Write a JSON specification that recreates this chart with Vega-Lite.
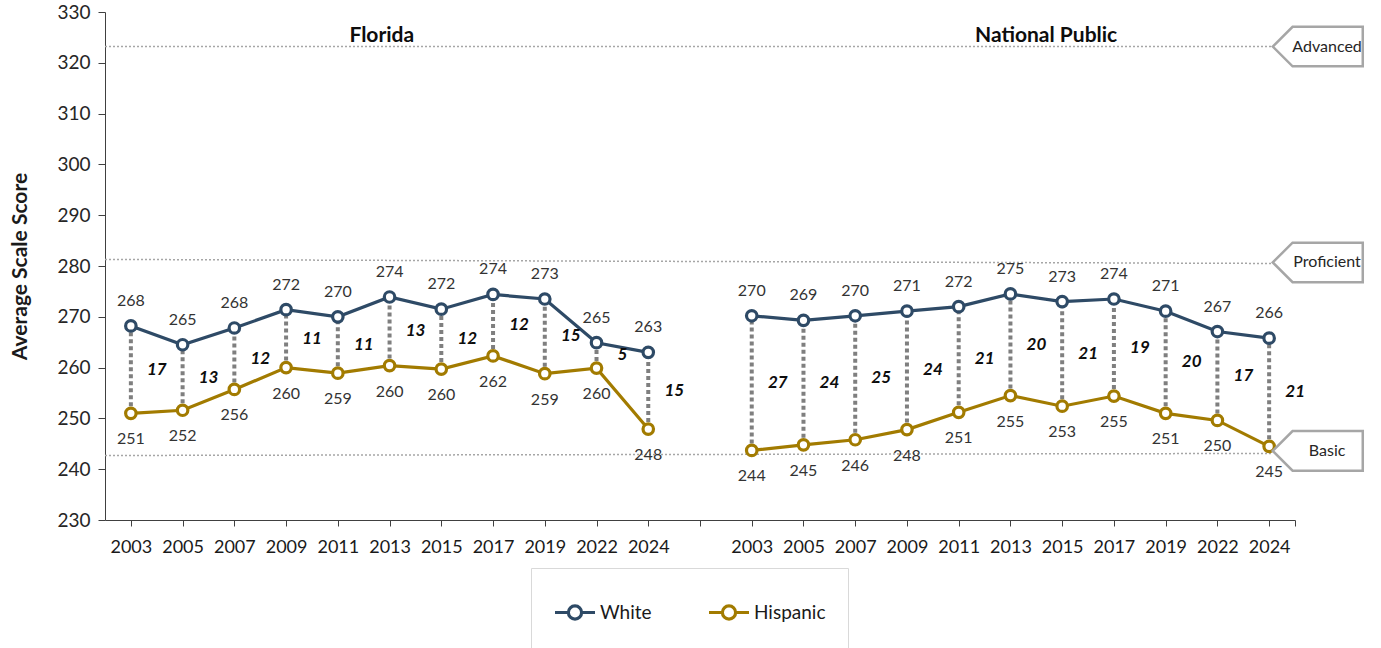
{
  "$schema": "https://vega.github.io/schema/vega-lite/v6.json",
  "width": 1190,
  "height": 508,
  "autosize": {"type": "none"},
  "padding": {"left": 105, "top": 12, "right": 86, "bottom": 128},
  "config": {
    "font": "Lato",
    "view": {"stroke": null},
    "legend": {"symbolFillColor": "white"}
  },
  "datasets": {
    "scores": [
      {"panel": "Florida", "slot": 0, "year": 2003, "group": "White", "score": 268.2, "label": 268, "gap": 17},
      {"panel": "Florida", "slot": 1, "year": 2005, "group": "White", "score": 264.5, "label": 265, "gap": 13},
      {"panel": "Florida", "slot": 2, "year": 2007, "group": "White", "score": 267.8, "label": 268, "gap": 12},
      {"panel": "Florida", "slot": 3, "year": 2009, "group": "White", "score": 271.4, "label": 272, "gap": 11},
      {"panel": "Florida", "slot": 4, "year": 2011, "group": "White", "score": 270.0, "label": 270, "gap": 11},
      {"panel": "Florida", "slot": 5, "year": 2013, "group": "White", "score": 273.9, "label": 274, "gap": 13},
      {"panel": "Florida", "slot": 6, "year": 2015, "group": "White", "score": 271.5, "label": 272, "gap": 12},
      {"panel": "Florida", "slot": 7, "year": 2017, "group": "White", "score": 274.4, "label": 274, "gap": 12},
      {"panel": "Florida", "slot": 8, "year": 2019, "group": "White", "score": 273.5, "label": 273, "gap": 15},
      {"panel": "Florida", "slot": 9, "year": 2022, "group": "White", "score": 264.9, "label": 265, "gap": 5},
      {"panel": "Florida", "slot": 10, "year": 2024, "group": "White", "score": 263.0, "label": 263, "gap": 15},
      {"panel": "Florida", "slot": 0, "year": 2003, "group": "Hispanic", "score": 251.0, "label": 251, "gap": 17},
      {"panel": "Florida", "slot": 1, "year": 2005, "group": "Hispanic", "score": 251.6, "label": 252, "gap": 13},
      {"panel": "Florida", "slot": 2, "year": 2007, "group": "Hispanic", "score": 255.7, "label": 256, "gap": 12},
      {"panel": "Florida", "slot": 3, "year": 2009, "group": "Hispanic", "score": 260.0, "label": 260, "gap": 11},
      {"panel": "Florida", "slot": 4, "year": 2011, "group": "Hispanic", "score": 258.9, "label": 259, "gap": 11},
      {"panel": "Florida", "slot": 5, "year": 2013, "group": "Hispanic", "score": 260.4, "label": 260, "gap": 13},
      {"panel": "Florida", "slot": 6, "year": 2015, "group": "Hispanic", "score": 259.7, "label": 260, "gap": 12},
      {"panel": "Florida", "slot": 7, "year": 2017, "group": "Hispanic", "score": 262.3, "label": 262, "gap": 12},
      {"panel": "Florida", "slot": 8, "year": 2019, "group": "Hispanic", "score": 258.8, "label": 259, "gap": 15},
      {"panel": "Florida", "slot": 9, "year": 2022, "group": "Hispanic", "score": 259.9, "label": 260, "gap": 5},
      {"panel": "Florida", "slot": 10, "year": 2024, "group": "Hispanic", "score": 247.9, "label": 248, "gap": 15},
      {"panel": "National Public", "slot": 12, "year": 2003, "group": "White", "score": 270.2, "label": 270, "gap": 27},
      {"panel": "National Public", "slot": 13, "year": 2005, "group": "White", "score": 269.3, "label": 269, "gap": 24},
      {"panel": "National Public", "slot": 14, "year": 2007, "group": "White", "score": 270.2, "label": 270, "gap": 25},
      {"panel": "National Public", "slot": 15, "year": 2009, "group": "White", "score": 271.1, "label": 271, "gap": 24},
      {"panel": "National Public", "slot": 16, "year": 2011, "group": "White", "score": 272.0, "label": 272, "gap": 21},
      {"panel": "National Public", "slot": 17, "year": 2013, "group": "White", "score": 274.5, "label": 275, "gap": 20},
      {"panel": "National Public", "slot": 18, "year": 2015, "group": "White", "score": 273.0, "label": 273, "gap": 21},
      {"panel": "National Public", "slot": 19, "year": 2017, "group": "White", "score": 273.5, "label": 274, "gap": 19},
      {"panel": "National Public", "slot": 20, "year": 2019, "group": "White", "score": 271.1, "label": 271, "gap": 20},
      {"panel": "National Public", "slot": 21, "year": 2022, "group": "White", "score": 267.1, "label": 267, "gap": 17},
      {"panel": "National Public", "slot": 22, "year": 2024, "group": "White", "score": 265.8, "label": 266, "gap": 21},
      {"panel": "National Public", "slot": 12, "year": 2003, "group": "Hispanic", "score": 243.7, "label": 244, "gap": 27},
      {"panel": "National Public", "slot": 13, "year": 2005, "group": "Hispanic", "score": 244.8, "label": 245, "gap": 24},
      {"panel": "National Public", "slot": 14, "year": 2007, "group": "Hispanic", "score": 245.8, "label": 246, "gap": 25},
      {"panel": "National Public", "slot": 15, "year": 2009, "group": "Hispanic", "score": 247.8, "label": 248, "gap": 24},
      {"panel": "National Public", "slot": 16, "year": 2011, "group": "Hispanic", "score": 251.2, "label": 251, "gap": 21},
      {"panel": "National Public", "slot": 17, "year": 2013, "group": "Hispanic", "score": 254.5, "label": 255, "gap": 20},
      {"panel": "National Public", "slot": 18, "year": 2015, "group": "Hispanic", "score": 252.4, "label": 253, "gap": 21},
      {"panel": "National Public", "slot": 19, "year": 2017, "group": "Hispanic", "score": 254.4, "label": 255, "gap": 19},
      {"panel": "National Public", "slot": 20, "year": 2019, "group": "Hispanic", "score": 251.0, "label": 251, "gap": 20},
      {"panel": "National Public", "slot": 21, "year": 2022, "group": "Hispanic", "score": 249.6, "label": 250, "gap": 17},
      {"panel": "National Public", "slot": 22, "year": 2024, "group": "Hispanic", "score": 244.5, "label": 245, "gap": 21}
    ],
    "levels": [
      {"level": "Advanced", "left": 323.2, "right": 323.2, "box": 323.2},
      {"level": "Proficient", "left": 281.3, "right": 280.5, "box": 280.7},
      {"level": "Basic", "left": 242.7, "right": 243.1, "box": 243.6}
    ],
    "panels": [
      {"panel": "Florida", "center": 4.85},
      {"panel": "National Public", "center": 17.69}
    ]
  },
  "layer": [
    {
      "data": {"name": "levels"},
      "mark": {"type": "rule", "stroke": "#A6A6A6", "strokeWidth": 1.5, "strokeDash": [2, 2]},
      "encoding": {
        "x": {"datum": -0.5, "type": "quantitative"},
        "x2": {"datum": 22.07},
        "y": {"field": "left", "type": "quantitative"},
        "y2": {"field": "right"}
      }
    },
    {
      "data": {"name": "scores"},
      "mark": {"type": "rule", "stroke": "#7F7F7F", "strokeWidth": 4, "strokeDash": [4, 3]},
      "encoding": {
        "x": {"field": "slot", "type": "quantitative"},
        "y": {"aggregate": "min", "field": "score", "type": "quantitative"},
        "y2": {"aggregate": "max", "field": "score"}
      }
    },
    {
      "data": {"name": "scores"},
      "mark": {"type": "line", "strokeWidth": 3.2},
      "encoding": {
        "x": {"field": "slot", "type": "quantitative",
          "scale": {"domain": [-0.5, 22.5], "nice": false, "zero": false},
          "axis": {
            "values": [0,1,2,3,4,5,6,7,8,9,10,11,12,13,14,15,16,17,18,19,20,21,22,22.5],
            "labelExpr": "(datum.value == 11 || datum.value > 22) ? '' : ['2003','2005','2007','2009','2011','2013','2015','2017','2019','2022','2024'][datum.value % 12]",
            "title": null, "grid": false, "domainColor": "#404040", "tickColor": "#404040",
            "tickSize": 6, "labelPadding": 12, "labelFontSize": 18, "labelColor": "#1a1a1a",
            "labelFont": "Lato", "labelOverlap": false, "labelFlush": false
          }
        },
        "y": {"field": "score", "type": "quantitative",
          "scale": {"domain": [230, 330], "nice": false, "zero": false},
          "axis": {
            "values": [230,240,250,260,270,280,290,300,310,320,330],
            "title": "Average Scale Score", "titleFontSize": 21, "titleFontWeight": "bold",
            "titleColor": "#1a1a1a", "titlePadding": 26, "titleFont": "Lato",
            "grid": false, "domainColor": "#404040", "tickColor": "#404040",
            "tickSize": 7, "labelPadding": 8, "labelFontSize": 19, "labelColor": "#262626"
          }
        },
        "stroke": {"field": "group", "type": "nominal",
          "scale": {"domain": ["White", "Hispanic"], "range": ["#2E4A66", "#A27B00"]},
          "legend": {
            "title": null, "orient": "none", "legendX": 426, "legendY": 556,
            "direction": "horizontal", "padding": 22, "strokeColor": "#D9D9D9",
            "symbolType": "M -1 0 L -0.33 0 M 0.33 0 L 1 0 M 0.33 0 A 0.33 0.33 0 1 1 -0.33 0 A 0.33 0.33 0 1 1 0.33 0 Z",
            "symbolSize": 1600, "symbolStrokeWidth": 3.2, "symbolFillColor": "white",
            "labelFontSize": 19, "labelColor": "#1a1a1a", "labelOffset": 3, "columnPadding": 50
          }
        },
        "detail": {"field": "panel"}
      }
    },
    {
      "data": {"name": "scores"},
      "mark": {"type": "point", "shape": "circle", "filled": false, "fill": "white", "fillOpacity": 1, "size": 110, "strokeWidth": 3.2, "opacity": 1},
      "encoding": {
        "x": {"field": "slot", "type": "quantitative"},
        "y": {"field": "score", "type": "quantitative"},
        "stroke": {"field": "group", "type": "nominal", "legend": null}
      }
    },
    {
      "data": {"name": "scores"},
      "transform": [{"filter": "datum.group == 'White'"}],
      "mark": {"type": "text", "dy": -25, "fontSize": 16, "fill": "#333333", "baseline": "middle"},
      "encoding": {
        "x": {"field": "slot", "type": "quantitative"},
        "y": {"field": "score", "type": "quantitative"},
        "text": {"field": "label"}
      }
    },
    {
      "data": {"name": "scores"},
      "transform": [{"filter": "datum.group == 'Hispanic'"}],
      "mark": {"type": "text", "dy": 26, "fontSize": 16, "fill": "#333333", "baseline": "middle"},
      "encoding": {
        "x": {"field": "slot", "type": "quantitative"},
        "y": {"field": "score", "type": "quantitative"},
        "text": {"field": "label"}
      }
    },
    {
      "data": {"name": "scores"},
      "mark": {"type": "text", "dx": 26, "fontSize": 17, "fontWeight": "bold", "fontStyle": "italic", "fill": "#0d0d0d", "baseline": "middle"},
      "encoding": {
        "x": {"field": "slot", "type": "quantitative"},
        "y": {"aggregate": "mean", "field": "score", "type": "quantitative"},
        "text": {"field": "gap"}
      }
    },
    {
      "data": {"name": "panels"},
      "mark": {"type": "text", "fontSize": 21, "fontWeight": "bold", "fill": "#0d0d0d", "baseline": "middle"},
      "encoding": {
        "x": {"field": "center", "type": "quantitative"},
        "y": {"datum": 325.3, "type": "quantitative"},
        "text": {"field": "panel"}
      }
    },
    {
      "data": {"name": "levels"},
      "mark": {"type": "point", "shape": "M -1 0 L -0.56 -0.44 L 1 -0.44 L 1 0.44 L -0.56 0.44 Z", "size": 8100, "filled": true, "fill": "white", "stroke": "#A6A6A6", "strokeWidth": 2.5, "opacity": 1},
      "encoding": {
        "x": {"datum": 22.94, "type": "quantitative"},
        "y": {"field": "box", "type": "quantitative"}
      }
    },
    {
      "data": {"name": "levels"},
      "mark": {"type": "text", "fontSize": 16, "fill": "#262626", "baseline": "middle"},
      "encoding": {
        "x": {"datum": 23.12, "type": "quantitative"},
        "y": {"field": "box", "type": "quantitative"},
        "text": {"field": "level"}
      }
    }
  ]
}
